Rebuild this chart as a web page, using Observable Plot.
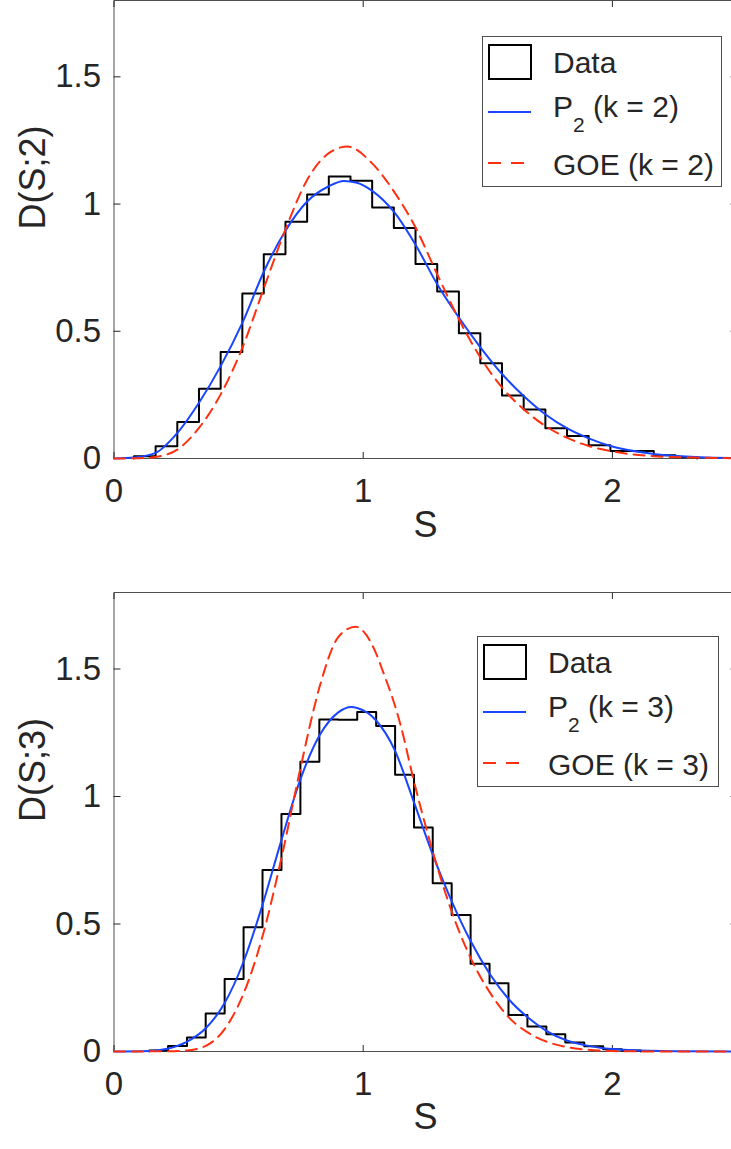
<!DOCTYPE html>
<html>
<head>
<meta charset="utf-8">
<script src="https://cdn.jsdelivr.net/npm/d3@7"></script>
<script src="https://cdn.jsdelivr.net/npm/@observablehq/plot@0.6"></script>
<style>
  html, body { margin: 0; padding: 0; background: #fff; overflow: hidden; }
  #wrap { position: relative; width: 731px; height: 1149px; overflow: hidden; background: #fff; }
  #wrap svg { display: block; }
</style>
</head>
<body>
<div id="wrap"></div>
<script>
// ---------- data ----------
const xTicks = [0, 1, 2];
const yTicks = [0, 0.5, 1, 1.5];
const xDomain = [0, 2.5];
const yDomain = [0, 1.8];
const xLabel = "S";

// Panel k = 2
const yLabel2 = "D(S;2)";
const binEdges2 = [0.080, 0.167, 0.254, 0.341, 0.428, 0.515, 0.601, 0.688, 0.775, 0.862, 0.949, 1.036, 1.123, 1.210, 1.297, 1.384, 1.470, 1.557, 1.644, 1.731, 1.818, 1.905, 1.992, 2.079, 2.166, 2.253, 2.340];
const binHeights2 = [0.009, 0.048, 0.143, 0.274, 0.419, 0.648, 0.803, 0.930, 1.038, 1.108, 1.092, 0.986, 0.906, 0.764, 0.656, 0.492, 0.374, 0.248, 0.193, 0.119, 0.088, 0.052, 0.029, 0.029, 0.013, 0.005];
const p2X2 = [0, 0.08, 0.167, 0.254, 0.341, 0.428, 0.515, 0.602, 0.688, 0.775, 0.862, 0.922, 0.975, 1.036, 1.123, 1.21, 1.297, 1.384, 1.471, 1.558, 1.645, 1.732, 1.819, 1.905, 1.992, 2.166, 2.353, 2.5];
const p2Y2 = [0, 0.004, 0.022, 0.10, 0.219, 0.363, 0.533, 0.736, 0.895, 1.01, 1.07, 1.091, 1.084, 1.052, 0.97, 0.84, 0.685, 0.554, 0.436, 0.331, 0.245, 0.173, 0.118, 0.079, 0.049, 0.018, 0.005, 0.002];
const goeX2 = [0, 0.1, 0.167, 0.254, 0.341, 0.428, 0.515, 0.602, 0.688, 0.775, 0.862, 0.936, 1.036, 1.123, 1.21, 1.297, 1.384, 1.471, 1.558, 1.645, 1.732, 1.819, 1.905, 1.992, 2.166, 2.35, 2.5];
const goeY2 = [0, 0.001, 0.006, 0.035, 0.12, 0.252, 0.435, 0.671, 0.9, 1.095, 1.2, 1.226, 1.16, 1.05, 0.908, 0.724, 0.547, 0.396, 0.278, 0.193, 0.127, 0.081, 0.049, 0.029, 0.009, 0.003, 0.001];

// Panel k = 3
const yLabel3 = "D(S;3)";
const binEdges3 = [0.141, 0.217, 0.293, 0.368, 0.444, 0.520, 0.596, 0.672, 0.748, 0.824, 0.900, 0.976, 1.052, 1.128, 1.204, 1.279, 1.355, 1.431, 1.507, 1.583, 1.659, 1.735, 1.811, 1.887, 1.963, 2.038, 2.114];
const binHeights3 = [0.004, 0.022, 0.055, 0.149, 0.284, 0.487, 0.712, 0.931, 1.136, 1.302, 1.301, 1.331, 1.276, 1.085, 0.878, 0.660, 0.535, 0.344, 0.268, 0.143, 0.098, 0.068, 0.035, 0.021, 0.009, 0.004];
const p2X3 = [0, 0.14, 0.214, 0.29, 0.368, 0.444, 0.519, 0.595, 0.671, 0.749, 0.825, 0.9, 0.952, 0.976, 1.052, 1.127, 1.201, 1.278, 1.354, 1.43, 1.508, 1.584, 1.66, 1.735, 1.812, 1.888, 1.963, 2.086, 2.3, 2.5];
const p2Y3 = [0, 0.002, 0.011, 0.037, 0.091, 0.19, 0.35, 0.572, 0.826, 1.07, 1.24, 1.33, 1.351, 1.347, 1.298, 1.181, 0.985, 0.775, 0.592, 0.435, 0.304, 0.205, 0.134, 0.081, 0.045, 0.025, 0.013, 0.005, 0.001, 0];
const goeX3 = [0, 0.2, 0.29, 0.368, 0.444, 0.519, 0.595, 0.671, 0.749, 0.825, 0.9, 0.969, 1.01, 1.05, 1.083, 1.117, 1.15, 1.201, 1.278, 1.354, 1.43, 1.508, 1.584, 1.66, 1.735, 1.812, 1.888, 1.963, 2.1, 2.5];
const goeY3 = [0, 0.001, 0.004, 0.022, 0.088, 0.225, 0.448, 0.755, 1.115, 1.43, 1.625, 1.666, 1.637, 1.565, 1.48, 1.388, 1.28, 1.07, 0.788, 0.552, 0.369, 0.232, 0.134, 0.075, 0.039, 0.018, 0.008, 0.003, 0.0005, 0];

// ---------- styles ----------
const FONT = "'Liberation Sans', Arial, Helvetica, sans-serif";
const TEXT = "#262626";
const AXIS = "#4d4d4d";
const BLUE = "#1a45ff";
const RED = "#ff3010";
const DASH = "11,7";
const fmt = d => String(d);

function stairs(edges, heights) {
  const pts = [{x: edges[0], y: 0}];
  heights.forEach((h, i) => pts.push({x: edges[i], y: h}));
  pts.push({x: edges[edges.length - 1], y: 0});
  return pts;
}
function zip(xs, ys) { return xs.map((x, i) => ({x, y: ys[i]})); }

function panel({edges, heights, p2x, p2y, goex, goey, ylabel, height, marginTop, marginBottom, xLabelDy}) {
  return Plot.plot({
    width: 737,
    height,
    marginLeft: 113.5,
    marginRight: 0.5,
    marginTop,
    marginBottom,
    style: {fontFamily: FONT, color: TEXT, background: "#fff", maxWidth: "none", overflow: "hidden"},
    x: {domain: xDomain, label: null},
    y: {domain: yDomain, label: null},
    marks: [
      Plot.frame({stroke: AXIS, strokeWidth: 1}),
      Plot.axisY(yTicks, {anchor: "left", tickSize: -7, tickPadding: 20, tickFormat: fmt, fontSize: 33, color: TEXT, label: null}),
      Plot.axisY(yTicks, {anchor: "right", tickSize: -7, tickFormat: () => "", color: TEXT, label: null}),
      Plot.axisX(xTicks, {anchor: "bottom", tickSize: -6, tickPadding: 26, tickFormat: fmt, fontSize: 33, color: TEXT, label: null}),
      Plot.axisX(xTicks, {anchor: "top", tickSize: -6, tickFormat: () => "", color: TEXT, label: null}),
      Plot.line(stairs(edges, heights), {x: "x", y: "y", curve: "step-after", stroke: "#000", strokeWidth: 2}),
      Plot.line(zip(p2x, p2y), {x: "x", y: "y", curve: "monotone-x", stroke: BLUE, strokeWidth: 2}),
      Plot.line(zip(goex, goey), {x: "x", y: "y", curve: "monotone-x", stroke: RED, strokeWidth: 2, strokeDasharray: DASH}),
      Plot.text([ylabel], {text: d => d, frameAnchor: "left", dx: -81, rotate: -90, fontSize: 36, fill: TEXT}),
      Plot.text([xLabel], {text: d => d, frameAnchor: "bottom", dy: xLabelDy, fontSize: 36, fill: TEXT})
    ]
  });
}

function legend(parent, {left, top, width, height, k}) {
  const svg = d3.select(parent).append("svg")
    .attr("width", width).attr("height", height)
    .style("position", "absolute").style("left", left + "px").style("top", top + "px")
    .style("font-family", FONT).style("font-size", "30px");
  svg.append("rect").attr("x", 0.5).attr("y", 0.5).attr("width", width - 1).attr("height", height - 1)
    .attr("fill", "#fff").attr("stroke", AXIS).attr("stroke-width", 1);
  svg.append("rect").attr("x", 7).attr("y", 9).attr("width", 42).attr("height", 34)
    .attr("fill", "#fff").attr("stroke", "#000").attr("stroke-width", 2);
  svg.append("text").attr("x", 71).attr("y", 37).attr("fill", TEXT).text("Data");
  svg.append("line").attr("x1", 6).attr("x2", 49).attr("y1", 76).attr("y2", 76)
    .attr("stroke", BLUE).attr("stroke-width", 2);
  const t = svg.append("text").attr("x", 71).attr("y", 81).attr("fill", TEXT);
  t.append("tspan").text("P");
  t.append("tspan").attr("dy", 15).style("font-size", "21px").text("2");
  t.append("tspan").attr("dy", -15).text(` (k = ${k})`);
  svg.append("line").attr("x1", 6).attr("x2", 49).attr("y1", 127).attr("y2", 127)
    .attr("stroke", RED).attr("stroke-width", 2).attr("stroke-dasharray", "13,10");
  svg.append("text").attr("x", 71).attr("y", 139).attr("fill", TEXT).text(`GOE (k = ${k})`);
}

const wrap = document.getElementById("wrap");
wrap.append(panel({edges: binEdges2, heights: binHeights2, p2x: p2X2, p2y: p2Y2, goex: goeX2, goey: goeY2,
  ylabel: yLabel2, height: 580, marginTop: 0, marginBottom: 122, xLabelDy: 78}));
wrap.append(panel({edges: binEdges3, heights: binHeights3, p2x: p2X3, p2y: p2Y3, goex: goeX3, goey: goeY3,
  ylabel: yLabel3, height: 569, marginTop: 12, marginBottom: 98, xLabelDy: 77}));
legend(wrap, {left: 482, top: 36, width: 240, height: 151, k: 2});
legend(wrap, {left: 477, top: 636, width: 242, height: 151, k: 3});
</script>
</body>
</html>
